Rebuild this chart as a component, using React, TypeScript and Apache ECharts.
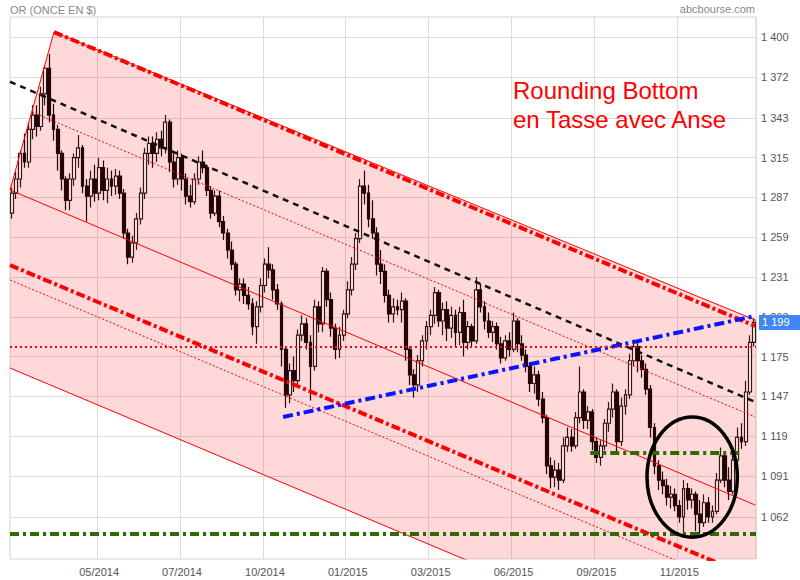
import React, { useEffect, useRef } from 'react';
import * as echarts from 'echarts';

// [open, close, low, high]
const candles: number[][] = [
  [1276,1290,1272,1294],[1290,1300,1286,1305],[1300,1318,1294,1320],[1318,1312,1308,1332],[1312,1335,1308,1340],
  [1335,1345,1328,1352],[1345,1337,1330,1352],[1337,1360,1334,1365],[1360,1378,1352,1380],[1378,1345,1340,1388],
  [1345,1335,1327,1353],[1335,1318,1306,1338],[1318,1300,1292,1320],[1300,1285,1278,1302],[1285,1300,1278,1304],
  [1300,1315,1295,1318],[1315,1322,1308,1331],[1322,1295,1290,1324],[1295,1288,1270,1300],[1288,1300,1280,1306],
  [1300,1290,1284,1310],[1290,1308,1285,1315],[1308,1292,1285,1313],[1292,1300,1283,1308],[1300,1295,1288,1306],
  [1295,1302,1289,1307],[1302,1290,1286,1306],[1290,1262,1258,1293],[1262,1245,1240,1265],[1245,1255,1241,1260],
  [1255,1272,1250,1276],[1272,1290,1268,1294],[1290,1318,1286,1322],[1318,1325,1310,1330],[1325,1318,1308,1330],
  [1318,1328,1312,1333],[1328,1322,1316,1334],[1322,1340,1318,1345],[1340,1312,1305,1342],[1312,1300,1294,1318],
  [1300,1315,1296,1320],[1315,1300,1292,1318],[1300,1288,1282,1304],[1288,1284,1280,1296],[1284,1300,1282,1304],
  [1300,1312,1296,1316],[1312,1308,1304,1320],[1308,1292,1288,1310],[1292,1276,1272,1295],[1276,1288,1274,1292],
  [1288,1270,1266,1292],[1270,1262,1257,1274],[1262,1250,1244,1265],[1250,1240,1236,1256],[1240,1222,1218,1242],
  [1222,1226,1214,1230],[1226,1218,1212,1230],[1218,1212,1208,1224],[1212,1196,1190,1216],[1196,1210,1184,1214],
  [1210,1225,1206,1230],[1225,1240,1220,1244],[1240,1236,1230,1252],[1236,1222,1215,1240],[1222,1212,1208,1226],
  [1212,1180,1168,1214],[1180,1148,1139,1182],[1148,1165,1142,1170],[1165,1158,1150,1175],[1158,1190,1155,1194],
  [1190,1198,1186,1204],[1198,1185,1180,1202],[1185,1168,1144,1190],[1168,1210,1165,1215],[1210,1198,1192,1214],
  [1198,1235,1192,1238],[1235,1215,1210,1237],[1215,1195,1189,1220],[1195,1180,1173,1198],[1180,1190,1174,1196],
  [1190,1205,1186,1208],[1205,1222,1202,1228],[1222,1240,1218,1245],[1240,1258,1236,1262],[1258,1295,1255,1300],
  [1295,1290,1282,1306],[1290,1272,1266,1296],[1272,1262,1258,1285],[1262,1240,1232,1266],[1240,1235,1226,1250],
  [1235,1218,1213,1240],[1218,1205,1199,1222],[1205,1210,1199,1216],[1210,1208,1204,1215],[1208,1214,1199,1220],
  [1214,1180,1172,1216],[1180,1162,1155,1182],[1162,1155,1146,1166],[1155,1172,1150,1176],[1172,1186,1168,1190],
  [1186,1196,1180,1200],[1196,1204,1190,1208],[1204,1220,1198,1224],[1220,1200,1196,1222],[1200,1208,1190,1213],
  [1208,1195,1186,1214],[1195,1204,1188,1210],[1204,1192,1182,1208],[1192,1206,1183,1210],[1206,1185,1175,1215],
  [1185,1196,1180,1200],[1196,1186,1182,1198],[1186,1222,1184,1231],[1222,1210,1206,1226],[1210,1200,1194,1214],
  [1200,1192,1188,1206],[1192,1196,1185,1200],[1196,1184,1180,1199],[1184,1174,1170,1189],[1174,1186,1172,1190],
  [1186,1180,1175,1192],[1180,1200,1178,1206],[1200,1184,1178,1202],[1184,1176,1172,1190],[1176,1168,1164,1180],
  [1168,1156,1150,1171],[1156,1162,1149,1168],[1162,1145,1140,1165],[1145,1132,1128,1150],[1132,1098,1092,1134],
  [1098,1090,1082,1104],[1090,1095,1083,1102],[1095,1088,1081,1100],[1088,1112,1086,1118],[1112,1118,1108,1125],
  [1118,1112,1108,1124],[1112,1132,1110,1136],[1132,1150,1128,1168],[1150,1130,1124,1152],[1130,1136,1124,1140],
  [1136,1115,1109,1138],[1115,1104,1100,1118],[1104,1112,1098,1116],[1112,1128,1109,1131],[1128,1138,1122,1143],
  [1138,1150,1132,1156],[1150,1115,1108,1152],[1115,1140,1112,1146],[1140,1148,1134,1152],[1148,1172,1145,1177],
  [1172,1182,1168,1187],[1182,1172,1164,1185],[1172,1166,1160,1176],[1166,1152,1148,1170],[1152,1125,1118,1155],
  [1125,1098,1092,1128],[1098,1088,1081,1102],[1088,1084,1078,1094],[1084,1076,1070,1089],[1076,1078,1068,1084],
  [1078,1070,1066,1082],[1070,1062,1058,1074],[1062,1082,1048,1088],[1082,1074,1067,1086],[1074,1078,1068,1082],
  [1078,1064,1052,1080],[1064,1058,1050,1074],[1058,1072,1055,1078],[1072,1062,1058,1076],[1062,1066,1058,1070],
  [1066,1088,1064,1093],[1088,1105,1086,1111],[1105,1088,1083,1108],[1088,1080,1074,1097],[1080,1102,1078,1107],
  [1102,1118,1098,1125],[1118,1115,1110,1128],[1115,1150,1112,1158],[1150,1185,1148,1190],[1185,1199,1182,1202],
];

const startDay = Date.UTC(2014, 1, 11);
const categories: string[] = candles.map((_, i) =>
  new Date(startDay + Math.round(i * 4.05) * 86400000).toISOString().slice(0, 10)
);

const xTickIndex = [21, 41, 61, 81, 101, 121, 141, 161];
const xTickLabels = ['05/2014', '07/2014', '10/2014', '01/2015', '03/2015', '06/2015', '09/2015', '11/2015'];
const yTickValues = [1062, 1091, 1119, 1147, 1175, 1203, 1231, 1259, 1287, 1315, 1343, 1372, 1400];
const yMin = 1032.4;
const yMax = 1414.1;
const lastPrice = 1199;

// overlay geometry in data units: [bar index, price]
const channelArea = [[-0.5, 1292.3], [10.12, 1403.5], [179.5, 1200.5], [179.5, 1032.4], [108.8, 1032.4], [-0.5, 1166.9]];
const channelLeftEdge = [[-0.5, 1292.3], [10.12, 1403.5]];
const channelTopEdge = [[10.12, 1403.5], [179.5, 1200.5]];
const upperBand = [[10.12, 1403.5], [179.3, 1196.5]];
const upperDashed = [[4.81, 1347.2], [179.3, 1132.4]];
const blackDashed = [[-0.5, 1368.5], [179.3, 1143.0]];
const middleLine = [[-0.5, 1292.3], [179.3, 1070.4]];
const lowerBand = [[-0.5, 1239.4], [179.5, 1018.3]];
const lowerDashed = [[-0.5, 1228.9], [179.5, 1007.7]];
const lowerLine = [[-0.5, 1166.9], [179.5, 945.8]];
const blueSupport = [[65.4, 1132.4], [179.3, 1203.5]];
const resistanceLevel = [[-0.5, 1181.7], [179.5, 1181.7]];
const bottomLevel = [[-0.5, 1050], [179.5, 1050]];
const handleLevel = [[139.5, 1107], [175.7, 1107]];
const ellipseCenter = [164.1, 1090.1];
const ellipseRadius = [10.9, 42.3];

const fmt = (v: number) => String(Math.round(v)).replace(/\B(?=(\d{3})+(?!\d))/g, ' ');
const FONT = '"Liberation Sans", Arial, Helvetica, sans-serif';

function lineSeries(data: number[][], color: string, width: number, type: any, z = 4) {
  return {
    type: 'line',
    xAxisIndex: 1,
    yAxisIndex: 0,
    data,
    symbol: 'none',
    silent: true,
    z,
    lineStyle: { color, width, type },
  };
}

export default function App() {
  const ref = useRef<HTMLDivElement>(null);
  useEffect(() => {
    if (!ref.current) return;
    const chart = echarts.init(ref.current, undefined, { renderer: 'svg' });
    const option: any = {
      animation: false,
      textStyle: { fontFamily: FONT },
      grid: { left: 10, right: 44, top: 17, bottom: 21, show: true, borderColor: '#d4d4d4', borderWidth: 1 },
      xAxis: [
        {
          type: 'category',
          data: categories,
          boundaryGap: true,
          axisLine: { show: false },
          axisTick: { show: false },
          axisLabel: {
            interval: (i: number) => xTickIndex.includes(i),
            formatter: (_v: string, i: number) => {
              const k = xTickIndex.indexOf(i);
              return k >= 0 ? xTickLabels[k] : '';
            },
            color: '#555',
            fontSize: 11,
            margin: 7,
            fontFamily: FONT,
          },
          splitLine: { show: true, interval: (i: number) => xTickIndex.includes(i), lineStyle: { color: '#dcdcdc', width: 1 } },
        },
        { type: 'value', min: -0.5, max: 179.5, show: false, splitLine: { show: false } },
      ],
      yAxis: {
        type: 'value',
        position: 'right',
        min: yMin,
        max: yMax,
        axisLine: { show: false },
        axisTick: { show: false, customValues: yTickValues },
        axisLabel: { customValues: yTickValues, formatter: (v: number) => fmt(v), color: '#555', fontSize: 11, margin: 5, fontFamily: FONT },
        splitLine: { show: true, lineStyle: { color: '#dcdcdc', width: 1 } },
      },
      graphic: [
        { type: 'text', left: 10, top: 4, style: { text: 'OR (ONCE EN $)', fill: '#888', font: `11px ${FONT}` } },
        { type: 'text', right: 45, top: 3, style: { text: 'abcbourse.com', fill: '#888', font: `11px ${FONT}` } },
        { type: 'text', left: 513, top: 76, z: 10, style: { text: 'Rounding Bottom\nen Tasse avec Anse', fill: '#ff0000', font: `24px ${FONT}`, lineHeight: 29 } },
      ],
      series: [
        {
          type: 'custom',
          xAxisIndex: 1,
          yAxisIndex: 0,
          silent: true,
          z: 1,
          data: [0],
          renderItem: (_p: any, api: any) => ({
            type: 'polygon',
            shape: { points: channelArea.map((p) => api.coord(p)) },
            style: { fill: 'rgba(255,0,0,0.15)', stroke: 'none' },
          }),
        },
        {
          type: 'candlestick',
          xAxisIndex: 0,
          yAxisIndex: 0,
          data: candles,
          z: 3,
          barWidth: 3.4,
          itemStyle: { color: '#fff4f4', color0: '#240606', borderColor: '#3a1414', borderColor0: '#240606', borderWidth: 1.2 },
          markLine: {
            silent: true,
            symbol: ['none', 'none'],
            z: 20,
            data: [{ yAxis: lastPrice }],
            lineStyle: { color: 'rgba(0,0,0,0)', width: 1, type: 'solid' },
            label: {
              show: true,
              position: 'end',
              distance: 3,
              formatter: () => fmt(lastPrice),
              backgroundColor: '#4285f4',
              color: '#ffffff',
              opacity: 1,
              fontSize: 11,
              padding: [2, 20, 2, 3],
              fontFamily: FONT,
            },
          },
        },
        lineSeries(channelLeftEdge, '#ff0000', 1, 'solid'),
        lineSeries(channelTopEdge, '#ff0000', 1, 'solid'),
        lineSeries(upperBand, '#ff0000', 4, [9, 3, 3, 3]),
        lineSeries(upperDashed, '#ff0000', 1, [2, 2]),
        lineSeries(blackDashed, '#111', 2.5, [6, 5]),
        lineSeries(middleLine, '#ff0000', 1, 'solid'),
        lineSeries(lowerBand, '#ff0000', 4, [9, 3, 3, 3]),
        lineSeries(lowerDashed, '#ff0000', 1, [2, 2]),
        lineSeries(lowerLine, '#ff0000', 1, 'solid'),
        lineSeries(blueSupport, '#0a14ff', 4, [10, 4, 3, 4]),
        lineSeries(resistanceLevel, '#ff0000', 2, [2, 3]),
        lineSeries(bottomLevel, '#2d6b00', 4, [9, 4, 3, 4]),
        lineSeries(handleLevel, '#2d6b00', 4, [9, 4, 3, 4]),
        {
          type: 'custom',
          xAxisIndex: 1,
          yAxisIndex: 0,
          silent: true,
          z: 6,
          data: [0],
          renderItem: (_p: any, api: any) => {
            const c = api.coord(ellipseCenter);
            const s = api.size(ellipseRadius);
            return {
              type: 'ellipse',
              shape: { cx: c[0], cy: c[1], rx: s[0], ry: s[1] },
              style: { fill: 'transparent', stroke: '#000', lineWidth: 3.5 },
            };
          },
        },
      ],
    };
    chart.setOption(option);
    return () => chart.dispose();
  }, []);
  return <div ref={ref} style={{ position: 'fixed', left: 0, top: 0, width: 800, height: 580, background: '#fff' }} />;
}
